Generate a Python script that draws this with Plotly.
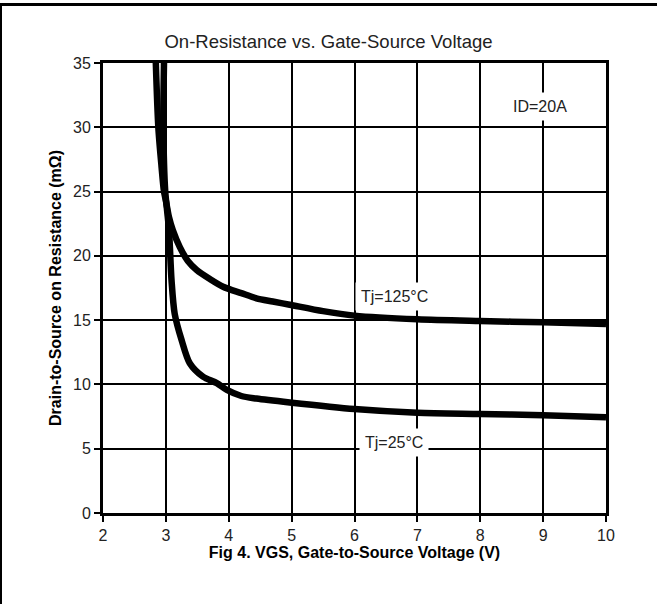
import plotly.graph_objects as go

# On-resistance curves at ID = 20 A
vgs_125 = [2.84, 2.88, 2.93, 2.97, 3.00, 3.05, 3.11, 3.22, 3.35, 3.49, 3.70, 3.91,
           4.20, 4.44, 4.70, 4.97, 5.50, 6.00, 7.00, 8.00, 9.00, 10.00]
rds_125 = [35.0, 30.0, 27.0, 25.0, 24.3, 23.0, 22.0, 20.7, 19.6, 18.9, 18.2, 17.6,
           17.1, 16.7, 16.45, 16.2, 15.7, 15.35, 15.06, 14.93, 14.83, 14.7]

vgs_25 = [2.97, 2.96, 2.99, 3.02, 3.05, 3.09, 3.14, 3.25, 3.38, 3.59, 3.81, 3.97,
          4.20, 4.44, 4.97, 6.00, 7.00, 8.00, 9.00, 10.00]
rds_25 = [35.0, 30.0, 25.0, 23.5, 22.0, 18.1, 15.5, 13.45, 11.64, 10.6, 10.1, 9.57,
          9.1, 8.9, 8.6, 8.09, 7.8, 7.7, 7.6, 7.44]

x_ticks = [2, 3, 4, 5, 6, 7, 8, 9, 10]
y_ticks = [0, 5, 10, 15, 20, 25, 30, 35]

FONT = "Liberation Sans, Arial, sans-serif"

fig = go.Figure()
fig.add_trace(go.Scatter(x=vgs_125, y=rds_125, mode="lines",
                         line=dict(color="black", width=6.5, shape="spline", smoothing=0.8),
                         name="Tj=125°C"))
fig.add_trace(go.Scatter(x=vgs_25, y=rds_25, mode="lines",
                         line=dict(color="black", width=6.5, shape="spline", smoothing=0.8),
                         name="Tj=25°C"))

axis_common = dict(
    showline=True, linecolor="black", linewidth=3, mirror=True,
    showgrid=True, gridcolor="black", gridwidth=1.5,
    ticks="outside", ticklen=6, tickcolor="black", tickwidth=1.5,
    tickfont=dict(family=FONT, size=16, color="#222"),
    zeroline=False,
)

fig.update_xaxes(range=[2, 10], tickvals=x_ticks,
                 title=dict(text="<b>Fig 4. VGS, Gate-to-Source Voltage (V)</b>",
                            font=dict(family=FONT, size=16, color="black"), standoff=4),
                 **axis_common)
fig.update_yaxes(range=[0, 35], tickvals=y_ticks,
                 title=dict(text="<b>Drain-to-Source on Resistance (mΩ)</b>",
                            font=dict(family=FONT, size=16, color="black"), standoff=8),
                 **axis_common)

annos = [
    dict(x=6.63, y=16.85, text="Tj=125°C"),
    dict(x=6.63, y=5.45, text="Tj=25°C"),
    dict(x=8.95, y=31.6, text="ID=20A"),
]
for a in annos:
    fig.add_annotation(x=a["x"], y=a["y"], text=a["text"], showarrow=False,
                       bgcolor="white", borderpad=5,
                       font=dict(family=FONT, size=16, color="#222"))

# Outer frame lines (top and left)
fig.add_shape(type="line", xref="paper", yref="paper",
              x0=-103 / 503, x1=(657 - 103) / 503,
              y0=(513 - 4.5) / 450, y1=(513 - 4.5) / 450,
              line=dict(color="black", width=3))
fig.add_shape(type="line", xref="paper", yref="paper",
              x0=-102 / 503, x1=-102 / 503,
              y0=(513 - 604) / 450, y1=(513 - 3) / 450,
              line=dict(color="black", width=2))

fig.update_layout(
    width=657, height=604,
    margin=dict(l=103, r=51, t=63, b=91),
    paper_bgcolor="white", plot_bgcolor="white",
    showlegend=False,
    title=dict(text="On-Resistance vs. Gate-Source Voltage", x=0.5, xanchor="center",
               y=1 - 42 / 604, yanchor="middle",
               font=dict(family=FONT, size=18.5, color="#222")),
)

fig.write_html("out.html")
